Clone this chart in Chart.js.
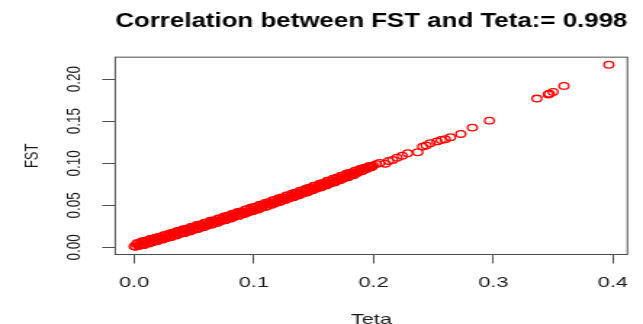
<!DOCTYPE html>
<html>
<head>
<meta charset="utf-8">
<script src="https://cdn.jsdelivr.net/npm/chart.js@4"></script>
<style>
  html, body { margin: 0; padding: 0; background: #ffffff; }
  #fstChart { display: block; width: 643px; height: 324px; }
</style>
</head>
<body>
<!-- the R plot was stretched sideways, so the canvas is drawn narrow and widened by css -->
<canvas id="fstChart" width="443" height="324" style="width:643px;height:324px;"></canvas>
<script>
// dense band of loci (Teta, FST)
var tetaDense = [
  0.0000, 0.0019, 0.0038, 0.0057, 0.0076, 0.0095, 0.0114, 0.0133, 0.0152, 0.0171,
  0.0190, 0.0209, 0.0228, 0.0247, 0.0266, 0.0285, 0.0304, 0.0323, 0.0342, 0.0361,
  0.0380, 0.0399, 0.0418, 0.0437, 0.0456, 0.0475, 0.0494, 0.0513, 0.0532, 0.0551,
  0.0570, 0.0589, 0.0608, 0.0627, 0.0646, 0.0665, 0.0684, 0.0703, 0.0722, 0.0741,
  0.0760, 0.0779, 0.0798, 0.0817, 0.0836, 0.0855, 0.0874, 0.0893, 0.0912, 0.0931,
  0.0950, 0.0969, 0.0988, 0.1007, 0.1026, 0.1045, 0.1064, 0.1083, 0.1102, 0.1121,
  0.1140, 0.1159, 0.1178, 0.1197, 0.1216, 0.1235, 0.1254, 0.1273, 0.1292, 0.1311,
  0.1330, 0.1349, 0.1368, 0.1387, 0.1406, 0.1425, 0.1444, 0.1463, 0.1482, 0.1501,
  0.1520, 0.1539, 0.1558, 0.1577, 0.1596, 0.1615, 0.1634, 0.1653, 0.1672, 0.1691,
  0.1710, 0.1729, 0.1748, 0.1767, 0.1786, 0.1805, 0.1824, 0.1843, 0.1862, 0.1881,
  0.1900, 0.1919, 0.1938, 0.1957, 0.1976, 0.1995, 0.2024, 0.2052
];
var fstDense = [
  0.0012, 0.0040, 0.0015, 0.0053, 0.0026, 0.0078, 0.0056, 0.0099, 0.0062, 0.0100,
  0.0072, 0.0125, 0.0103, 0.0146, 0.0109, 0.0147, 0.0120, 0.0173, 0.0151, 0.0194,
  0.0158, 0.0196, 0.0169, 0.0222, 0.0200, 0.0244, 0.0207, 0.0245, 0.0219, 0.0272,
  0.0251, 0.0294, 0.0258, 0.0296, 0.0270, 0.0323, 0.0302, 0.0345, 0.0309, 0.0348,
  0.0321, 0.0375, 0.0354, 0.0398, 0.0362, 0.0400, 0.0374, 0.0428, 0.0407, 0.0451,
  0.0415, 0.0454, 0.0428, 0.0482, 0.0461, 0.0505, 0.0470, 0.0509, 0.0483, 0.0537,
  0.0516, 0.0561, 0.0525, 0.0564, 0.0539, 0.0593, 0.0573, 0.0617, 0.0582, 0.0621,
  0.0596, 0.0650, 0.0630, 0.0674, 0.0639, 0.0679, 0.0653, 0.0708, 0.0688, 0.0733,
  0.0698, 0.0738, 0.0712, 0.0767, 0.0747, 0.0792, 0.0757, 0.0797, 0.0772, 0.0827,
  0.0807, 0.0853, 0.0818, 0.0858, 0.0833, 0.0888, 0.0869, 0.0909, 0.0884, 0.0920,
  0.0905, 0.0940, 0.0935, 0.0960, 0.0955, 0.0975, 0.0990, 0.1005
];
// more loci in the same band, lying between the ones above
var tetaDense2 = [
  0.0010, 0.0029, 0.0048, 0.0067, 0.0086, 0.0105, 0.0124, 0.0143, 0.0162, 0.0181,
  0.0200, 0.0219, 0.0238, 0.0257, 0.0276, 0.0295, 0.0314, 0.0333, 0.0352, 0.0371,
  0.0390, 0.0409, 0.0428, 0.0447, 0.0466, 0.0485, 0.0504, 0.0523, 0.0542, 0.0561,
  0.0580, 0.0599, 0.0618, 0.0637, 0.0656, 0.0675, 0.0694, 0.0713, 0.0732, 0.0751,
  0.0770, 0.0789, 0.0808, 0.0827, 0.0846, 0.0865, 0.0884, 0.0903, 0.0922, 0.0941,
  0.0960, 0.0979, 0.0998, 0.1017, 0.1036, 0.1055, 0.1074, 0.1093, 0.1112, 0.1131,
  0.1150, 0.1169, 0.1188, 0.1207, 0.1226, 0.1245, 0.1264, 0.1283, 0.1302, 0.1321,
  0.1340, 0.1359, 0.1378, 0.1397, 0.1416, 0.1435, 0.1454, 0.1473, 0.1492, 0.1511,
  0.1530, 0.1549, 0.1568, 0.1587, 0.1606, 0.1625, 0.1644, 0.1663, 0.1682, 0.1701,
  0.1720, 0.1739, 0.1758, 0.1777, 0.1796, 0.1815, 0.1834, 0.1853, 0.1872, 0.1891,
  0.1910, 0.1929, 0.1948, 0.1967, 0.1986
];
var fstDense2 = [
  0.0008, 0.0052, 0.0029, 0.0072, 0.0035, 0.0072, 0.0045, 0.0098, 0.0076, 0.0119,
  0.0081, 0.0119, 0.0092, 0.0145, 0.0123, 0.0166, 0.0129, 0.0167, 0.0140, 0.0194,
  0.0172, 0.0215, 0.0178, 0.0216, 0.0190, 0.0243, 0.0221, 0.0265, 0.0228, 0.0267,
  0.0240, 0.0294, 0.0272, 0.0316, 0.0279, 0.0318, 0.0291, 0.0345, 0.0324, 0.0367,
  0.0331, 0.0370, 0.0344, 0.0398, 0.0376, 0.0420, 0.0384, 0.0423, 0.0397, 0.0451,
  0.0430, 0.0474, 0.0438, 0.0477, 0.0451, 0.0505, 0.0485, 0.0529, 0.0493, 0.0532,
  0.0506, 0.0561, 0.0540, 0.0584, 0.0549, 0.0588, 0.0563, 0.0617, 0.0597, 0.0641,
  0.0606, 0.0645, 0.0620, 0.0674, 0.0654, 0.0699, 0.0663, 0.0703, 0.0678, 0.0733,
  0.0713, 0.0758, 0.0722, 0.0762, 0.0737, 0.0792, 0.0772, 0.0817, 0.0782, 0.0822,
  0.0798, 0.0853, 0.0833, 0.0878, 0.0843, 0.0884, 0.0859, 0.0914, 0.0895, 0.0935,
  0.0910, 0.0946, 0.0936, 0.0967, 0.0957
];
// the scattered loci at the upper end
var tetaSparse = [
  0.2098, 0.2127, 0.2160, 0.2196, 0.2240, 0.2285, 0.2370, 0.2410, 0.2440, 0.2474, 0.2530,
  0.2565, 0.2599, 0.2643, 0.2729, 0.2826, 0.2968, 0.3365, 0.3460, 0.3468, 0.3500, 0.3591, 0.3966
];
var fstSparse = [
  0.0995, 0.1027, 0.1040, 0.1067, 0.1090, 0.1119, 0.1131, 0.1198, 0.1212, 0.1238, 0.1260,
  0.1277, 0.1286, 0.1310, 0.1349, 0.1424, 0.1507, 0.1770, 0.1818, 0.1828, 0.1849, 0.1920, 0.2172
];

var tetaTicks = [0, 0.1, 0.2, 0.3, 0.4];
var fstTicks = [0, 0.05, 0.1, 0.15, 0.2];

var titleText = 'Correlation between FST and Teta:= 0.998';
var axisColor = '#4d4d4d';
var textColor = '#1a1a1a';

Chart.defaults.font.family = "'Liberation Sans', Arial, Helvetica, sans-serif";

function toPoints(xs, ys) {
    return xs.map(function(x, i) { return { x: x, y: ys[i] }; });
}

// R draws a closed box round the plot region
var boxPlugin = {
    id: 'plotBox',
    afterDraw: function(chart) {
        var a = chart.chartArea;
        var ctx = chart.ctx;
        ctx.save();
        ctx.strokeStyle = axisColor;
        ctx.lineWidth = 1;
        ctx.strokeRect(a.left, a.top, a.right - a.left, a.bottom - a.top);
        ctx.restore();
    }
};

var pointStyle = {
    borderColor: '#ff0000',
    backgroundColor: 'rgba(0,0,0,0)',
    borderWidth: 1.3,
    pointRadius: 3.3,
    pointHoverRadius: 3.3
};

new Chart(document.getElementById('fstChart'), {
    type: 'scatter',
    data: {
        datasets: [
            Object.assign({ label: 'band', data: toPoints(tetaDense, fstDense) }, pointStyle),
            Object.assign({ label: 'band2', data: toPoints(tetaDense2, fstDense2) }, pointStyle),
            Object.assign({ label: 'tail', data: toPoints(tetaSparse, fstSparse) }, pointStyle)
        ]
    },
    options: {
        responsive: false,
        devicePixelRatio: 1,
        animation: false,
        layout: { padding: { left: 0, right: 9.3, top: 0, bottom: 0 } },
        plugins: {
            legend: { display: false },
            tooltip: { enabled: false },
            title: {
                display: true,
                fullSize: false,
                text: titleText,
                color: '#000000',
                font: { size: 19.3, weight: 'bold' },
                padding: { top: 10, bottom: 24 }
            }
        },
        scales: {
            x: {
                type: 'linear',
                min: -0.0158,
                max: 0.4121,
                afterBuildTicks: function(scale) {
                    scale.ticks = tetaTicks.map(function(v) { return { value: v }; });
                },
                afterFit: function(scale) { scale.height = 69.5; },
                grid: { drawOnChartArea: false, drawTicks: true, tickLength: 9, tickColor: axisColor },
                border: { display: false },
                ticks: {
                    autoSkip: false,
                    maxRotation: 0,
                    color: textColor,
                    font: { size: 15 },
                    padding: 10,
                    callback: function(v) { return v.toFixed(1); }
                },
                title: {
                    display: true,
                    text: 'Teta',
                    color: textColor,
                    font: { size: 15 },
                    padding: { top: 0, bottom: -5 }
                }
            },
            y: {
                type: 'linear',
                min: -0.0085,
                max: 0.2262,
                afterBuildTicks: function(scale) {
                    scale.ticks = fstTicks.map(function(v) { return { value: v }; });
                },
                afterFit: function(scale) { scale.width = 79.4; },
                grid: { drawOnChartArea: false, drawTicks: true, tickLength: 9, tickColor: axisColor },
                border: { display: false },
                ticks: {
                    autoSkip: false,
                    minRotation: 90,
                    maxRotation: 90,
                    crossAlign: 'center',
                    color: textColor,
                    font: { size: 13.5 },
                    padding: 6,
                    callback: function(v) { return v.toFixed(2); }
                },
                title: {
                    display: true,
                    text: 'FST',
                    color: textColor,
                    font: { size: 13 },
                    padding: { top: 14.9, bottom: 0 }
                }
            }
        }
    },
    plugins: [boxPlugin]
});
</script>
</body>
</html>
